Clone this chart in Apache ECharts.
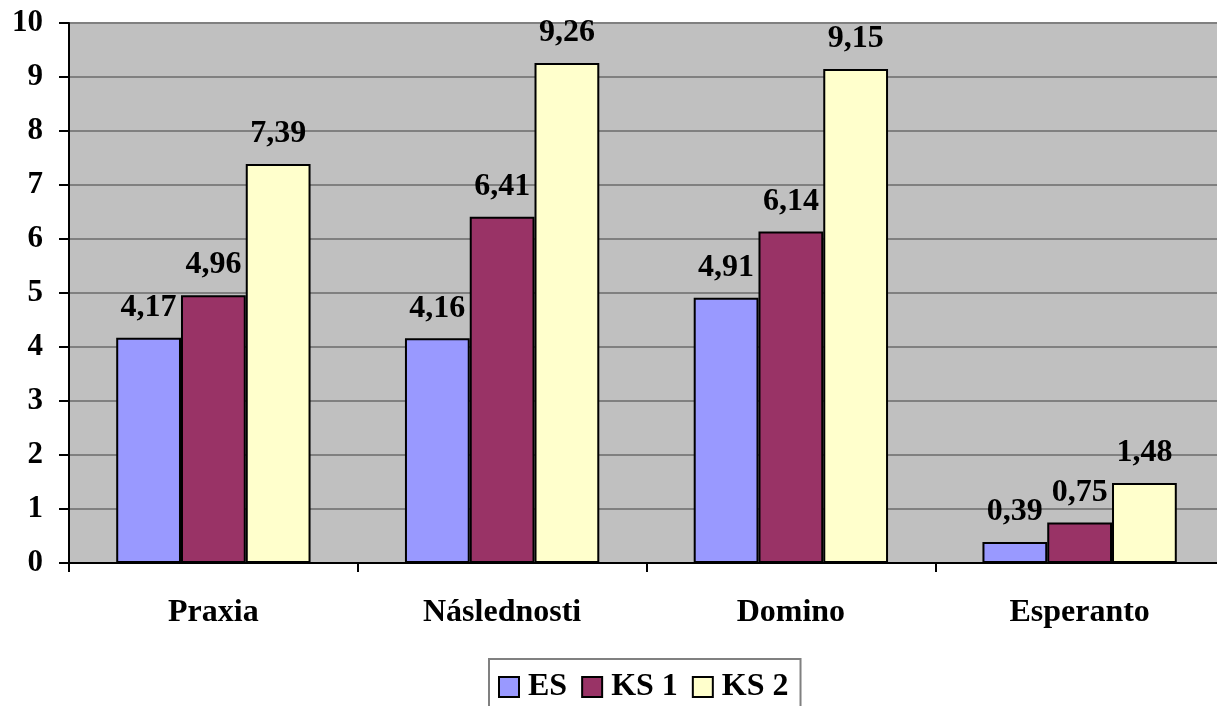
<!DOCTYPE html>
<html><head><meta charset="utf-8">
<script src="https://cdn.jsdelivr.net/npm/echarts@6/dist/echarts.min.js"></script>
<style>html,body{margin:0;padding:0;background:#fff;overflow:hidden}#c{width:1232px;height:706px}</style>
</head><body><div id="c"></div>
<script>
const categories = ['Praxia', 'Následnosti', 'Domino', 'Esperanto'];
const seriesNames = ['ES', 'KS 1', 'KS 2'];
const esValues = [4.17, 4.16, 4.91, 0.39];
const ks1Values = [4.96, 6.41, 6.14, 0.75];
const ks2Values = [7.39, 9.26, 9.15, 1.48];
const yTicks = [0, 1, 2, 3, 4, 5, 6, 7, 8, 9, 10];
const colors = ['#9999FF', '#993366', '#FFFFCC'];

const font = 'Liberation Serif';
const chart = echarts.init(document.getElementById('c'));
const mk = (name, data, color) => ({
  name, type: 'bar', data,
  barGap: '0%', barCategoryGap: '32.7%',
  itemStyle: { color, borderColor: '#000', borderWidth: 2 },
  label: {
    show: true, position: 'top', distance: 14,
    fontFamily: font, fontWeight: 'bold', fontSize: 32, color: '#000',
    formatter: p => p.value.toFixed(2).replace('.', ',')
  }
});
chart.setOption({
  animation: false,
  grid: { left: 69, top: 23, width: 1155, height: 540, show: true, backgroundColor: '#C0C0C0', borderWidth: 0 },
  xAxis: {
    type: 'category', data: categories,
    axisLine: { lineStyle: { color: '#000', width: 2 } },
    axisTick: { show: true, length: 9, lineStyle: { color: '#000', width: 2 } },
    axisLabel: { margin: 34, fontFamily: font, fontWeight: 'bold', fontSize: 32, color: '#000' }
  },
  yAxis: {
    type: 'value', min: yTicks[0], max: yTicks[yTicks.length - 1], interval: 1,
    axisLine: { show: true, lineStyle: { color: '#000', width: 2 } },
    axisTick: { show: true, length: 10, lineStyle: { color: '#000', width: 2 } },
    axisLabel: { margin: 26, fontFamily: font, fontWeight: 'bold', fontSize: 31, color: '#000' },
    splitLine: { show: true, lineStyle: { color: '#808080', width: 2 } }
  },
  legend: {
    left: 489, top: 659,
    data: seriesNames,
    icon: 'rect', itemWidth: 20, itemHeight: 20, itemGap: 14,
    padding: [12, 12, 12, 9],
    borderColor: '#808080', borderWidth: 2, backgroundColor: '#fff',
    itemStyle: { borderColor: '#000', borderWidth: 2 },
    textStyle: { fontFamily: font, fontWeight: 'bold', fontSize: 32, color: '#000', padding: [0, 0, 0, 4] }
  },
  series: [
    mk(seriesNames[0], esValues, colors[0]),
    mk(seriesNames[1], ks1Values, colors[1]),
    mk(seriesNames[2], ks2Values, colors[2])
  ]
});
</script></body></html>
